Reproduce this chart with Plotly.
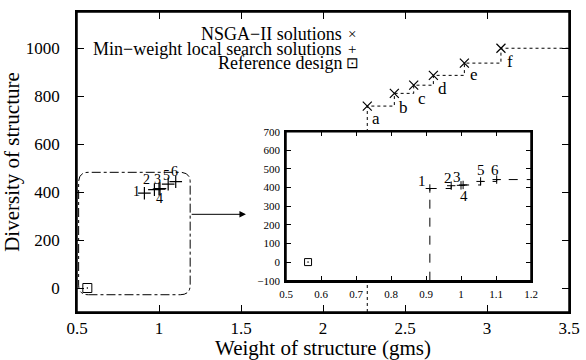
import plotly.graph_objects as go

# ---- data ----
nsga_labels = ["a", "b", "c", "d", "e", "f"]
nsga_weight = [2.27, 2.435, 2.553, 2.673, 2.862, 3.085]
nsga_diversity = [758, 811, 845, 886, 937, 999]

ls_labels = ["1", "2", "3", "4", "5", "6"]
ls_weight = [0.911, 0.972, 1.0, 1.006, 1.056, 1.102]
ls_diversity = [395, 410, 412, 414, 433, 443]

ref_weight = [0.563]
ref_diversity = [0]

main_xticks = [0.5, 1, 1.5, 2, 2.5, 3, 3.5]
main_yticks = [0, 200, 400, 600, 800, 1000]
main_xrange = [0.5, 3.5]
main_yrange = [-100, 1150]
inset_xrange = [0.5, 1.2]
inset_yrange = [-100, 700]

# label pixel offsets (style): (dx, dy) with dy positive downwards
nsga_label_off = [(9, 12), (9, 14), (8, 13), (9, 13), (10, 11), (9, 13)]
ls_main_off = [(-8, -2), (-8, -10), (-2, -10), (0, 10), (-2, -9), (-1, -10)]
ls_inset_off = [(-8, -8), (-3, -8), (-4, -8), (1, 11), (0, -11), (-2, -10)]

FONT = "Liberation Serif"
L, R, T, B = 77, 569, 12, 312
W, H = 586, 360


def px2paper(px, py):
    return (px - L) / (R - L), (B - py) / (B - T)


fig = go.Figure()

# NSGA-II attainment staircase
fig.add_trace(go.Scatter(
    x=[nsga_weight[0]] + nsga_weight + [main_xrange[1]],
    y=[main_yrange[0]] + nsga_diversity + [nsga_diversity[-1]],
    mode="lines", line=dict(shape="hv", dash="dot", color="black", width=1),
    hoverinfo="skip", showlegend=False, xaxis="x", yaxis="y"))

fig.add_trace(go.Scatter(
    x=nsga_weight, y=nsga_diversity, mode="markers",
    marker=dict(symbol="x-thin-open", size=9, line=dict(width=1.2, color="black"), color="black"),
    showlegend=False, xaxis="x", yaxis="y"))

fig.add_trace(go.Scatter(
    x=ls_weight, y=ls_diversity, mode="markers",
    marker=dict(symbol="cross-thin-open", size=9, line=dict(width=1.2, color="black"), color="black"),
    showlegend=False, xaxis="x", yaxis="y"))

fig.add_trace(go.Scatter(
    x=ref_weight, y=ref_diversity, mode="markers",
    marker=dict(symbol="square-open-dot", size=9, line=dict(width=1, color="black"), color="black"),
    showlegend=False, xaxis="x", yaxis="y"))

# inset
fig.add_trace(go.Scatter(
    x=[ls_weight[0]] + ls_weight + [inset_xrange[1]],
    y=[inset_yrange[0]] + ls_diversity + [ls_diversity[-1]],
    mode="lines", line=dict(shape="hv", dash="dash", color="black", width=1),
    hoverinfo="skip", showlegend=False, xaxis="x2", yaxis="y2"))

fig.add_trace(go.Scatter(
    x=ls_weight, y=ls_diversity, mode="markers",
    marker=dict(symbol="cross-thin-open", size=6, line=dict(width=1, color="black"), color="black"),
    showlegend=False, xaxis="x2", yaxis="y2"))

fig.add_trace(go.Scatter(
    x=ref_weight, y=ref_diversity, mode="markers",
    marker=dict(symbol="square-open-dot", size=7, line=dict(width=1, color="black"), color="black"),
    showlegend=False, xaxis="x2", yaxis="y2"))

# rounded dash-dot box around the cluster
x0, x1, y0, y1 = 0.51, 1.19, -28, 482
rx, ry = 0.06, 40
path = (f"M {x0+rx},{y0} L {x1-rx},{y0} Q {x1},{y0} {x1},{y0+ry} "
        f"L {x1},{y1-ry} Q {x1},{y1} {x1-rx},{y1} L {x0+rx},{y1} "
        f"Q {x0},{y1} {x0},{y1-ry} L {x0},{y0+ry} Q {x0},{y0} {x0+rx},{y0} Z")
fig.add_shape(type="path", path=path, xref="x", yref="y",
              line=dict(color="black", width=1, dash="dashdot"))

# frame boxes (main and inset)
for xr, yr in (("x domain", "y domain"), ("x2 domain", "y2 domain")):
    fig.add_shape(type="rect", xref=xr, yref=yr, x0=0, x1=1, y0=0, y1=1,
                  line=dict(color="black", width=1.5), fillcolor="rgba(0,0,0,0)")

annotations = [
    dict(x=1.53, y=307, ax=1.19, ay=307, xref="x", yref="y", axref="x", ayref="y",
         text="", showarrow=True, arrowhead=2, arrowsize=1.3, arrowwidth=1, arrowcolor="black"),
]


def point_labels(xs, ys, labels, offs, xref, yref, size):
    for xv, yv, lab, (dx, dy) in zip(xs, ys, labels, offs):
        annotations.append(dict(x=xv, y=yv, xref=xref, yref=yref, text=lab, showarrow=False,
                                xanchor="center", yanchor="middle", xshift=dx, yshift=-dy,
                                font=dict(family=FONT, size=size, color="black")))


point_labels(nsga_weight, nsga_diversity, nsga_labels, nsga_label_off, "x", "y", 17)
point_labels(ls_weight, ls_diversity, ls_labels, ls_main_off, "x", "y", 14)
point_labels(ls_weight, ls_diversity, ls_labels, ls_inset_off, "x2", "y2", 15)

legend_items = [("NSGA−II solutions", "×", 33.7),
                ("Min−weight local search solutions", "+", 49),
                ("Reference design", "⊡", 63.3)]
for txt, sym, py in legend_items:
    xp, yp = px2paper(344, py)
    annotations.append(dict(x=xp, y=yp, xref="paper", yref="paper", text=txt,
                            showarrow=False, xanchor="right", yanchor="middle",
                            font=dict(family=FONT, size=18, color="black")))
    xs, _ = px2paper(352, py)
    annotations.append(dict(x=xs, y=yp, xref="paper", yref="paper", text=sym,
                            showarrow=False, xanchor="center", yanchor="middle",
                            font=dict(family=FONT, size=15, color="black")))

ix0, iy0 = px2paper(286, 280.7)
ix1, iy1 = px2paper(531, 131.7)

axis_common = dict(showline=True, linecolor="black", linewidth=1.5, mirror="ticks",
                   ticks="inside", tickcolor="black", showgrid=False, zeroline=False,
                   automargin=False)

fig.update_layout(
    width=W, height=H,
    margin=dict(l=L, r=W - R, t=T, b=H - B, autoexpand=False),
    paper_bgcolor="white", plot_bgcolor="white",
    font=dict(family=FONT, color="black"),
    annotations=annotations,
    xaxis=dict(range=main_xrange, tickvals=main_xticks, ticklen=7, tickwidth=1,
               tickfont=dict(size=17, family=FONT), ticklabelstandoff=0,
               title=dict(text="Weight of structure (gms)", font=dict(size=21, family=FONT), standoff=2),
               **axis_common),
    yaxis=dict(range=main_yrange, tickvals=main_yticks, ticklen=7, tickwidth=1,
               tickfont=dict(size=17, family=FONT), ticklabelstandoff=12,
               title=dict(text="Diversity of structure", font=dict(size=21, family=FONT), standoff=6),
               **axis_common),
    xaxis2=dict(domain=[ix0, ix1], anchor="y2", range=inset_xrange, dtick=0.1, ticklen=5, tickwidth=1,
                tickfont=dict(size=11, family=FONT), ticklabelstandoff=2, **axis_common),
    yaxis2=dict(domain=[iy0, iy1], anchor="x2", range=inset_yrange, dtick=100, ticklen=5, tickwidth=1,
                tickfont=dict(size=11, family=FONT), ticklabelstandoff=2, **axis_common),
)

fig.write_html("out.html", config={"displayModeBar": False},
               post_script="document.body.style.margin='0';document.body.style.overflow='hidden';")
